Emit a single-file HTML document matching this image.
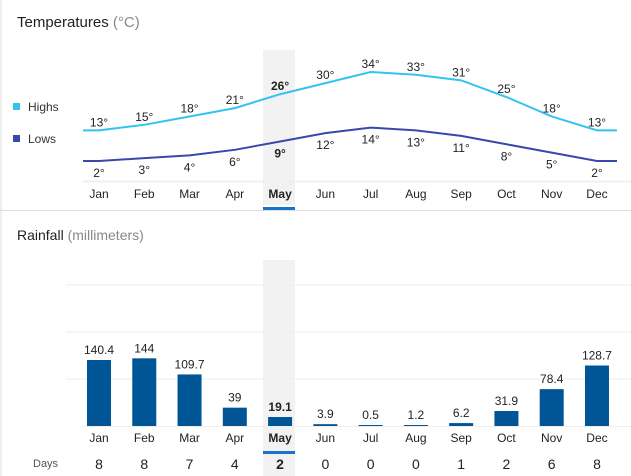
<!DOCTYPE html>
<html><head><meta charset="utf-8"><style>
body{margin:0;width:631px;height:476px;background:#fff;overflow:hidden;font-family:"Liberation Sans",Arial,sans-serif;}
svg{display:block}
</style></head><body>
<svg width="631" height="476" id="svg" font-family="Liberation Sans, Arial, sans-serif">
<line x1="1" y1="0" x2="1" y2="476" stroke="#ddd"/>
<rect x="263" y="50" width="32" height="155" fill="#f2f2f2"/>
<rect x="263" y="260" width="32" height="216" fill="#f2f2f2"/>
<text x="17" y="27" font-size="15" fill="#222">Temperatures <tspan fill="#888">(°C)</tspan></text>
<rect x="13" y="103" width="7" height="7" fill="#33c3f0"/>
<text x="28" y="111" font-size="12" fill="#333">Highs</text>
<rect x="13" y="135" width="7" height="7" fill="#3949ab"/>
<text x="28" y="143" font-size="12" fill="#333">Lows</text>
<line x1="83" y1="181.5" x2="631" y2="181.5" stroke="#f0f0f0" stroke-width="2"/>
<line x1="0" y1="210.5" x2="631" y2="210.5" stroke="#ddd"/>
<rect x="263" y="207" width="32" height="3" fill="#1a73c8"/>
<text x="17" y="240" font-size="14" fill="#222">Rainfall <tspan fill="#888">(millimeters)</tspan></text>
<text x="33" y="467" font-size="11" fill="#555">Days</text>
<rect x="263" y="451" width="32" height="3" fill="#1a73c8"/>
<g id="temp"></g><g id="rain"></g>
</svg>
<script>
const months=["Jan","Feb","Mar","Apr","May","Jun","Jul","Aug","Sep","Oct","Nov","Dec"];
const highs=[13,15,18,21,26,30,34,33,31,25,18,13];
const lows=[2,3,4,6,9,12,14,13,11,8,5,2];
const rainfall=[140.4,144,109.7,39,19.1,3.9,0.5,1.2,6.2,31.9,78.4,128.7];
const days=[8,8,7,4,2,0,0,0,1,2,6,8];
const rainTicks=[100,200,300];
const selected=4;
const NS="http://www.w3.org/2000/svg";
function x(i){return 99+i*45.27;}
function yT(t){return 166.5-2.78*t;}
function yR(v){return 426-0.47*v;}
function mk(tag,attrs,parent,text){const e=document.createElementNS(NS,tag);for(const k in attrs)e.setAttribute(k,attrs[k]);if(text!==undefined)e.textContent=text;parent.appendChild(e);return e;}
const gT=document.getElementById('temp'),gR=document.getElementById('rain');
function series(arr,color,name,above){
  let pts=[[83,yT(arr[0])]];arr.forEach((v,i)=>pts.push([x(i),yT(v)]));pts.push([617,yT(arr[arr.length-1])]);
  const p=mk('polyline',{points:pts.map(p=>p.join(',')).join(' '),fill:'none',stroke:color,'stroke-width':2},gT);
  
  
  arr.forEach((v,i)=>{
    const t=mk('text',{x:x(i),y:above?yT(v)-4:yT(v)+16,'text-anchor':'middle','font-size':12,fill:'#222','font-weight':i===selected?'bold':'normal'},gT,v+'°');
    
    
  });
}
series(highs,'#33c3f0','highs',true);
series(lows,'#3949ab','lows',false);
months.forEach((m,i)=>{
  const t=mk('text',{x:x(i),y:198,'text-anchor':'middle','font-size':12,fill:'#222','font-weight':i===selected?'bold':'normal'},gT,m);
  
  
});
rainTicks.forEach(v=>{
  const l=mk('line',{x1:66,x2:631,y1:yR(v),y2:yR(v),stroke:'#eee'},gR);
  
  
});
const bl=mk('line',{x1:83,x2:631,y1:426.5,y2:426.5,stroke:'#eee'},gR);


rainfall.forEach((v,i)=>{
  const h=Math.max(426-yR(v),1);
  const r=mk('rect',{x:x(i)-12,y:426-h,width:24,height:h,fill:'#005596'},gR);
  
  
  const t=mk('text',{x:x(i),y:426-h-6,'text-anchor':'middle','font-size':12,fill:'#222','font-weight':i===selected?'bold':'normal'},gR,String(v));
  
  
  const m=mk('text',{x:x(i),y:442,'text-anchor':'middle','font-size':12,fill:'#222','font-weight':i===selected?'bold':'normal'},gR,months[i]);
  
  
  const d=mk('text',{x:x(i),y:469,'text-anchor':'middle','font-size':14,fill:'#222','font-weight':i===selected?'bold':'normal'},gR,String(days[i]));
  
  
});
</script>
</body></html>
